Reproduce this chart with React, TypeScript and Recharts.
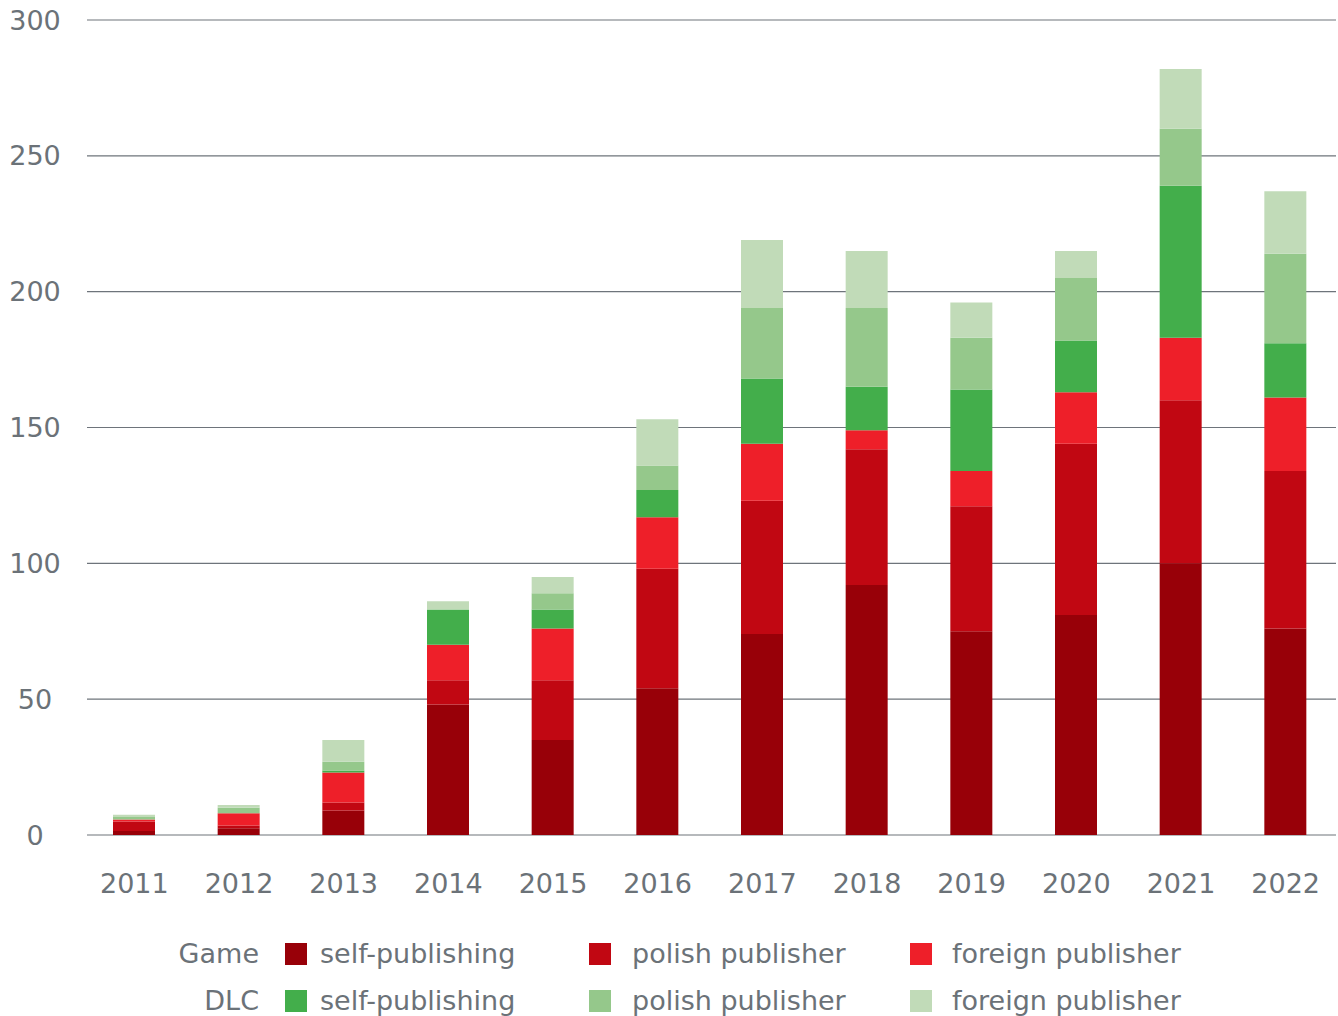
import { Bar, BarChart, CartesianGrid, XAxis, YAxis } from "recharts";

const YEARS = ["2011", "2012", "2013", "2014", "2015", "2016", "2017", "2018", "2019", "2020", "2021", "2022"];

// Game releases by publisher type
const GAME_SELF = [1.5, 2.5, 9, 48, 35, 54, 74, 92, 75, 81, 100, 76];
const GAME_POLISH = [3.5, 1, 3, 9, 22, 44, 49, 50, 46, 63, 60, 58];
const GAME_FOREIGN = [0.7, 4.5, 11, 13, 19, 19, 21, 7, 13, 19, 23, 27];

// DLC releases by publisher type
const DLC_SELF = [0, 0, 0.7, 13, 7, 10, 24, 16, 30, 19, 56, 20];
const DLC_POLISH = [0.9, 2, 3.3, 0, 6, 9, 26, 29, 19, 23, 21, 33];
const DLC_FOREIGN = [0.9, 1, 8, 3, 6, 17, 25, 21, 13, 10, 22, 23];

const Y_TICKS = [0, 50, 100, 150, 200, 250, 300];

const SERIES = [
  { key: "gameSelf", label: "self-publishing", color: "#980008" },
  { key: "gamePolish", label: "polish publisher", color: "#c10712" },
  { key: "gameForeign", label: "foreign publisher", color: "#ee1f29" },
  { key: "dlcSelf", label: "self-publishing", color: "#43ae4b" },
  { key: "dlcPolish", label: "polish publisher", color: "#95c88b" },
  { key: "dlcForeign", label: "foreign publisher", color: "#c1dbb8" },
];

const TEXT = "#6b7278";
const FONT = "'DejaVu Sans', sans-serif";

const data = YEARS.map((year, i) => ({
  year,
  gameSelf: GAME_SELF[i],
  gamePolish: GAME_POLISH[i],
  gameForeign: GAME_FOREIGN[i],
  dlcSelf: DLC_SELF[i],
  dlcPolish: DLC_POLISH[i],
  dlcForeign: DLC_FOREIGN[i],
}));

function YTick({ y, payload }: any) {
  return (
    <text x={35} y={y} textAnchor="middle" dominantBaseline="central" fill={TEXT} fontSize={27} fontFamily={FONT}>
      {payload.value}
    </text>
  );
}

function XTick({ x, payload }: any) {
  return (
    <text x={x} y={883} textAnchor="middle" dominantBaseline="central" fill={TEXT} fontSize={27} fontFamily={FONT}>
      {payload.value}
    </text>
  );
}

const COLS = [
  { swatch: 285, text: 320 },
  { swatch: 589, text: 632 },
  { swatch: 910, text: 952 },
];

function LegendRow({ title, items, top }: { title: string; items: typeof SERIES; top: number }) {
  return (
    <>
      <div style={{ position: "absolute", left: 0, width: 259, top: top - 16, height: 32, lineHeight: "32px", textAlign: "right" }}>
        {title}
      </div>
      {items.map((s, i) => (
        <div key={s.key}>
          <div
            style={{ position: "absolute", left: COLS[i].swatch, top: top - 11, width: 22, height: 22, background: s.color }}
          />
          <div style={{ position: "absolute", left: COLS[i].text, top: top - 16, height: 32, lineHeight: "32px", whiteSpace: "nowrap" }}>
            {s.label}
          </div>
        </div>
      ))}
    </>
  );
}

export default function App() {
  return (
    <div
      style={{
        position: "absolute",
        left: 0,
        top: 0,
        width: 1338,
        height: 1016,
        background: "#ffffff",
        fontFamily: FONT,
        fontSize: 27,
        color: TEXT,
      }}
    >
      <BarChart width={1338} height={1016} data={data} margin={{ top: 20, right: 0, left: 0, bottom: 141 }}>
        <CartesianGrid vertical={false} stroke="#6e747b" strokeWidth={1.2} x={87} width={1249} />
        <XAxis dataKey="year" axisLine={false} tickLine={false} tick={<XTick />} interval={0} height={40} />
        <YAxis
          width={82}
          domain={[0, 300]}
          ticks={Y_TICKS}
          axisLine={false}
          tickLine={false}
          tick={<YTick />}
          interval={0}
        />
        {SERIES.map((s) => (
          <Bar key={s.key} dataKey={s.key} stackId="a" fill={s.color} barSize={42} isAnimationActive={false} />
        ))}
      </BarChart>
      <LegendRow title="Game" items={SERIES.slice(0, 3)} top={954} />
      <LegendRow title="DLC" items={SERIES.slice(3)} top={1001} />
    </div>
  );
}
